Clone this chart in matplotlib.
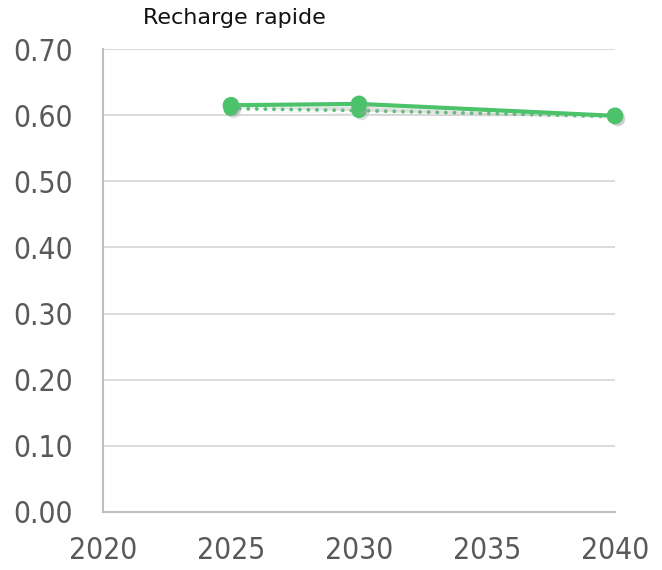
import matplotlib
matplotlib.use("Agg")
import matplotlib.pyplot as plt
import matplotlib.patheffects as pe

## DATA
years = [2025, 2030, 2040]
solid_vals = [0.615, 0.617, 0.599]
dotted_vals = [0.610, 0.607, 0.598]
x_ticks = [2020, 2025, 2030, 2035, 2040]
y_ticks = [0.0, 0.1, 0.2, 0.3, 0.4, 0.5, 0.6, 0.7]
title = "Recharge rapide"

green = "#4CC26B"
shadow = [pe.SimplePatchShadow(offset=(2, -2), shadow_rgbFace="#AAAAAA", alpha=0.35), pe.Normal()]

fig = plt.figure(figsize=(6.62, 5.70), dpi=100)
ax = fig.add_axes([0.1556, 0.1018, 0.929 - 0.1556, 0.914 - 0.1018])

# dotted series first, solid on top
ax.plot(years, dotted_vals, color=green, lw=2.8, linestyle=(0, (0.01, 2.2)),
        dash_capstyle="round", marker="o", markersize=10, clip_on=False,
        path_effects=shadow)
ax.plot(years, solid_vals, color=green, lw=3, marker="o", markersize=11,
        solid_capstyle="round", path_effects=shadow, clip_on=False)

ax.set_xlim(2020, 2040)
ax.set_ylim(0, 0.7)
ax.set_xticks(x_ticks)
ax.set_yticks(y_ticks)
ax.set_yticklabels(["%.2f" % v for v in y_ticks])

ax.grid(axis="y", color="#D9D9D9", lw=1.3)
ax.set_axisbelow(True)
for side in ["top", "right"]:
    ax.spines[side].set_visible(False)
for side in ["left", "bottom"]:
    ax.spines[side].set_color("#BFBFBF")
    ax.spines[side].set_linewidth(1.5)

ax.tick_params(length=0, labelsize=21.5, labelcolor="#595959")
ax.tick_params(axis="y", pad=22)
ax.tick_params(axis="x", pad=17)
for lab in ax.get_xticklabels() + ax.get_yticklabels():
    lab.set_fontstretch("condensed")

fig.text(0.216, 0.968, title, fontsize=16, color="#111111", ha="left", va="center")

fig.savefig("out.png", dpi=100)
